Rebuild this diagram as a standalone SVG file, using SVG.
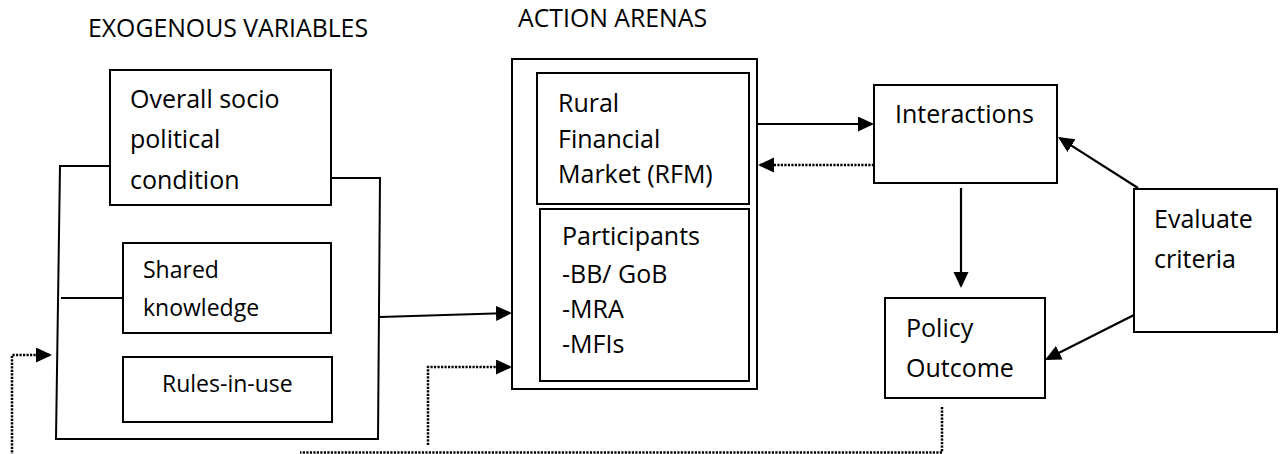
<svg xmlns="http://www.w3.org/2000/svg" width="1287" height="454" viewBox="0 0 1287 454">
  <style>
    text { font-family: "Open Sans", "Noto Sans", "Liberation Sans", sans-serif; fill: #000; }
    .title { font-size: 24.8px; }
    .lbl { font-size: 25px; }
    .sm { font-size: 23px; }
    .box { fill: #fff; stroke: #000; stroke-width: 2; }
    .wire { fill: none; stroke: #000; stroke-width: 2; }
    .solid { fill: none; stroke: #000; stroke-width: 2.2; }
    .dot { fill: none; stroke: #000; stroke-width: 2.5; stroke-dasharray: 2.2 1.3; }
  </style>
  <defs>
    <marker id="head" markerUnits="userSpaceOnUse" markerWidth="17" markerHeight="16" refX="14" refY="7.5" orient="auto">
      <path d="M0,0 L16,7.5 L0,15 z" fill="#000"/>
    </marker>
  </defs>

  <rect width="1287" height="454" fill="#fff"/>

  <!-- section headings -->
  <text class="title" x="88" y="37">EXOGENOUS VARIABLES</text>
  <text class="title" x="518" y="27">ACTION ARENAS</text>

  <!-- exogenous variables: bracket frame and its three boxes -->
  <g id="exogenous">
    <path class="wire" d="M110,166 L60,166 L56,439 L378,439 L380,178 L331,178"/>
    <path class="wire" d="M61,298 L123,298"/>
  </g>
  <g id="socio-political">
    <rect class="box" x="110" y="70" width="221" height="135"/>
    <text class="lbl" x="130" y="108">Overall socio</text>
    <text class="lbl" x="130" y="148">political</text>
    <text class="lbl" x="130" y="189">condition</text>
  </g>
  <g id="shared-knowledge">
    <rect class="box" x="123" y="243" width="208" height="90"/>
    <text class="sm" x="143" y="278">Shared</text>
    <text class="sm" x="143" y="316">knowledge</text>
  </g>
  <g id="rules-in-use">
    <rect class="box" x="123" y="357" width="209" height="65"/>
    <text class="sm" x="162" y="392">Rules-in-use</text>
  </g>

  <!-- action arena with its two parts -->
  <g id="action-arena">
    <rect class="box" x="512" y="59" width="245" height="330"/>
  </g>
  <g id="rfm">
    <rect class="box" x="537" y="73" width="212" height="131"/>
    <text class="lbl" x="558" y="112">Rural</text>
    <text class="lbl" x="558" y="148">Financial</text>
    <text class="lbl" x="558" y="183">Market (RFM)</text>
  </g>
  <g id="participants">
    <rect class="box" x="540" y="209" width="209" height="172"/>
    <text class="lbl" x="562" y="245">Participants</text>
    <text class="lbl" x="562" y="283">-BB/ GoB</text>
    <text class="lbl" x="562" y="318">-MRA</text>
    <text class="lbl" x="562" y="353">-MFIs</text>
  </g>

  <g id="interactions">
    <rect class="box" x="874" y="85" width="183" height="98"/>
    <text class="lbl" x="895" y="123">Interactions</text>
  </g>
  <g id="policy-outcome">
    <rect class="box" x="885" y="298" width="160" height="100"/>
    <text class="lbl" x="906" y="337">Policy</text>
    <text class="lbl" x="906" y="377">Outcome</text>
  </g>
  <g id="evaluate-criteria">
    <rect class="box" x="1134" y="189" width="143" height="143"/>
    <text class="lbl" x="1154" y="228">Evaluate</text>
    <text class="lbl" x="1154" y="268">criteria</text>
  </g>

  <!-- connectors -->
  <g id="connectors">
    <path class="solid" d="M380,317 L510,313" marker-end="url(#head)"/>
    <path class="dot" d="M12,456 L12,355 L50,355" marker-end="url(#head)"/>
    <path class="dot" d="M428,445 L428,367 L510,367" marker-end="url(#head)"/>
    <path class="solid" d="M757,124 L872,124" marker-end="url(#head)"/>
    <path class="dot" d="M874,165 L760,165" marker-end="url(#head)"/>
    <path class="solid" d="M961,188 L961,286" marker-end="url(#head)"/>
    <path class="solid" d="M1138,188 L1059.7,138.1" marker-end="url(#head)"/>
    <path class="solid" d="M1134,315 L1046.8,359.1" marker-end="url(#head)"/>
    <path class="dot" d="M942,407 L942,452.5 L300,452.5"/>
  </g>
</svg>
